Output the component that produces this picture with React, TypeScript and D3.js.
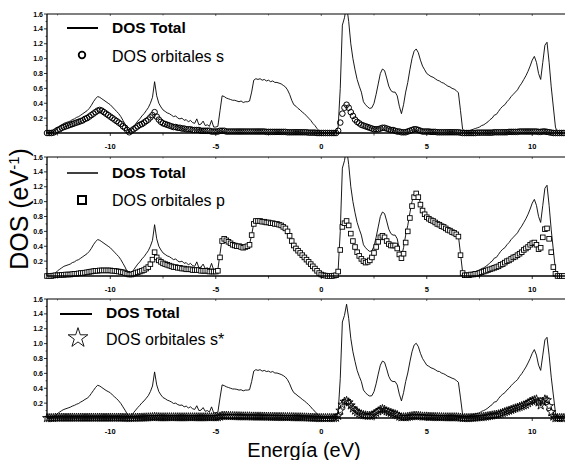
import React, { useEffect, useRef } from "react";
import * as d3 from "d3";

// energy grid of the DOS file: -13.0 eV … 11.5 eV every 0.1 eV
const E_START = -13;
const E_STEP = 0.1;

// total DOS (panels 1 and 2), one row per eV
const dosTotal = [
  0, 0, 0, 0.01, 0.04, 0.07, 0.09, 0.11, 0.13, 0.14,
  0.15, 0.16, 0.18, 0.19, 0.21, 0.22, 0.24, 0.26, 0.28, 0.3,
  0.33, 0.37, 0.42, 0.46, 0.49, 0.48, 0.46, 0.44, 0.42, 0.4,
  0.38, 0.35, 0.32, 0.29, 0.26, 0.22, 0.17, 0.12, 0.06, 0.01,
  0.04, 0.08, 0.12, 0.16, 0.19, 0.23, 0.26, 0.3, 0.34, 0.4,
  0.48, 0.69, 0.5, 0.4, 0.35, 0.31, 0.29, 0.27, 0.26, 0.24,
  0.22, 0.23, 0.2, 0.19, 0.2, 0.17, 0.18, 0.15, 0.17, 0.14,
  0.13, 0.19, 0.11, 0.12, 0.16, 0.1, 0.11, 0.09, 0.17, 0.08,
  0.08, 0.09, 0.3, 0.5, 0.49, 0.47, 0.46, 0.45, 0.44, 0.44,
  0.43, 0.42, 0.43, 0.41, 0.42, 0.42, 0.43, 0.55, 0.71, 0.73,
  0.72, 0.73, 0.71, 0.72, 0.7, 0.71, 0.69, 0.7, 0.68, 0.68,
  0.67, 0.66, 0.64, 0.62, 0.58, 0.52, 0.44, 0.38, 0.36, 0.33,
  0.31, 0.28, 0.26, 0.23, 0.2, 0.17, 0.13, 0.1, 0.06, 0.03,
  0, 0, 0, 0, 0, 0, 0, 0.01, 0.08, 0.6,
  1.45, 1.55, 1.72, 1.5, 1.2, 1.0, 0.85, 0.72, 0.63, 0.55,
  0.42, 0.38, 0.35, 0.33, 0.34, 0.4, 0.52, 0.66, 0.8, 0.86,
  0.84, 0.74, 0.63, 0.57, 0.55, 0.55, 0.5, 0.36, 0.26, 0.38,
  0.55, 0.68, 0.85, 1.0, 1.1, 1.13, 1.08, 0.98, 0.9, 0.85,
  0.8, 0.78, 0.76, 0.75, 0.73, 0.71, 0.7, 0.68, 0.67, 0.65,
  0.63, 0.62, 0.6, 0.59, 0.57, 0.54, 0.3, 0.05, 0.03, 0.03,
  0.03, 0.04, 0.05, 0.06, 0.07, 0.08, 0.1, 0.11, 0.13, 0.15,
  0.18, 0.2, 0.24, 0.25, 0.29, 0.33, 0.36, 0.38, 0.42, 0.45,
  0.49, 0.52, 0.55, 0.58, 0.63, 0.67, 0.72, 0.77, 0.83, 0.9,
  0.98, 1.03, 0.95, 0.8, 0.72, 0.95, 1.18, 1.22, 0.95, 0.62,
  0.35, 0.08, 0, 0, 0, 0,
];

// total DOS as plotted in the bottom panel
const dosTotalBottom = [
  0, 0, 0, 0.01, 0.035, 0.06, 0.08, 0.1, 0.115, 0.125,
  0.135, 0.145, 0.16, 0.17, 0.185, 0.195, 0.215, 0.23, 0.25, 0.265,
  0.29, 0.33, 0.37, 0.41, 0.44, 0.43, 0.41, 0.39, 0.37, 0.355,
  0.34, 0.31, 0.285, 0.26, 0.23, 0.195, 0.15, 0.105, 0.055, 0.01,
  0.035, 0.07, 0.105, 0.14, 0.17, 0.205, 0.23, 0.265, 0.3, 0.355,
  0.43, 0.62, 0.445, 0.355, 0.31, 0.275, 0.26, 0.24, 0.23, 0.215,
  0.195, 0.2, 0.18, 0.17, 0.175, 0.15, 0.16, 0.135, 0.15, 0.125,
  0.115, 0.165, 0.1, 0.105, 0.14, 0.09, 0.1, 0.08, 0.15, 0.07,
  0.07, 0.08, 0.27, 0.445, 0.435, 0.42, 0.41, 0.4, 0.39, 0.39,
  0.385, 0.375, 0.38, 0.365, 0.375, 0.375, 0.38, 0.49, 0.63, 0.65,
  0.64, 0.65, 0.63, 0.64, 0.625, 0.63, 0.615, 0.625, 0.605, 0.605,
  0.595, 0.585, 0.57, 0.55, 0.515, 0.46, 0.39, 0.34, 0.32, 0.295,
  0.275, 0.25, 0.23, 0.205, 0.18, 0.15, 0.115, 0.09, 0.055, 0.025,
  0, 0, 0, 0, 0, 0, 0, 0.01, 0.07, 0.53,
  1.29, 1.38, 1.53, 1.34, 1.07, 0.89, 0.76, 0.64, 0.56, 0.49,
  0.375, 0.34, 0.31, 0.295, 0.3, 0.355, 0.46, 0.59, 0.71, 0.765,
  0.75, 0.66, 0.56, 0.505, 0.49, 0.49, 0.445, 0.32, 0.23, 0.34,
  0.49, 0.605, 0.755, 0.89, 0.98, 1.005, 0.96, 0.87, 0.8, 0.755,
  0.71, 0.695, 0.675, 0.665, 0.65, 0.63, 0.625, 0.605, 0.595, 0.58,
  0.56, 0.55, 0.535, 0.525, 0.505, 0.48, 0.27, 0.045, 0.025, 0.025,
  0.025, 0.035, 0.045, 0.055, 0.06, 0.07, 0.09, 0.1, 0.115, 0.135,
  0.16, 0.18, 0.215, 0.22, 0.26, 0.295, 0.32, 0.34, 0.375, 0.4,
  0.435, 0.465, 0.49, 0.515, 0.56, 0.595, 0.64, 0.685, 0.74, 0.8,
  0.87, 0.92, 0.845, 0.71, 0.64, 0.845, 1.05, 1.085, 0.845, 0.55,
  0.31, 0.07, 0, 0, 0, 0,
];

// s orbitals
const dosS = [
  0, 0, 0, 0.005, 0.02, 0.04, 0.05, 0.07, 0.08, 0.09,
  0.1, 0.11, 0.12, 0.13, 0.14, 0.15, 0.16, 0.17, 0.19, 0.2,
  0.22, 0.24, 0.26, 0.28, 0.3, 0.31, 0.3, 0.28, 0.26, 0.24,
  0.22, 0.2, 0.18, 0.16, 0.14, 0.12, 0.09, 0.07, 0.04, 0.01,
  0.03, 0.05, 0.07, 0.09, 0.11, 0.12, 0.14, 0.16, 0.18, 0.21,
  0.24, 0.28, 0.22, 0.18, 0.15, 0.13, 0.12, 0.11, 0.1, 0.09,
  0.08, 0.08, 0.07, 0.07, 0.06, 0.06, 0.05, 0.05, 0.05, 0.04,
  0.04, 0.04, 0.04, 0.03, 0.03, 0.03, 0.03, 0.03, 0.02, 0.02,
  0.02, 0.02, 0.03, 0.03, 0.03, 0.02, 0.02, 0.02, 0.02, 0.02,
  0.02, 0.02, 0.02, 0.02, 0.02, 0.02, 0.02, 0.02, 0.02, 0.02,
  0.02, 0.02, 0.02, 0.02, 0.015, 0.015, 0.015, 0.015, 0.015, 0.015,
  0.015, 0.015, 0.015, 0.015, 0.01, 0.01, 0.01, 0.01, 0.01, 0.01,
  0.01, 0.01, 0.01, 0.01, 0.005, 0.005, 0.005, 0.005, 0, 0,
  0, 0, 0, 0, 0, 0, 0, 0, 0.03, 0.14,
  0.26, 0.34, 0.38, 0.34, 0.28, 0.23, 0.18, 0.15, 0.13, 0.11,
  0.1, 0.09, 0.08, 0.07, 0.06, 0.05, 0.05, 0.05, 0.06, 0.07,
  0.07, 0.06, 0.05, 0.04, 0.04, 0.03, 0.02, 0.02, 0.01, 0.01,
  0.01, 0.02, 0.03, 0.04, 0.05, 0.05, 0.04, 0.03, 0.02, 0.02,
  0.02, 0.02, 0.015, 0.015, 0.015, 0.01, 0.01, 0.01, 0.01, 0.01,
  0.01, 0.01, 0.01, 0.01, 0.01, 0.01, 0.005, 0, 0, 0,
  0, 0, 0, 0, 0.005, 0.005, 0.005, 0.005, 0.005, 0.005,
  0.005, 0.005, 0.01, 0.01, 0.01, 0.01, 0.01, 0.01, 0.01, 0.015,
  0.015, 0.015, 0.015, 0.015, 0.02, 0.02, 0.02, 0.02, 0.02, 0.02,
  0.02, 0.02, 0.02, 0.015, 0.015, 0.02, 0.02, 0.015, 0.01, 0.005,
  0, 0, 0, 0, 0, 0,
];

// p orbitals
const dosP = [
  0, 0, 0, 0.005, 0.01, 0.01, 0.01, 0.015, 0.015, 0.02,
  0.02, 0.02, 0.025, 0.03, 0.03, 0.035, 0.04, 0.04, 0.045, 0.05,
  0.055, 0.06, 0.065, 0.07, 0.07, 0.075, 0.075, 0.075, 0.075, 0.075,
  0.075, 0.07, 0.07, 0.065, 0.06, 0.055, 0.05, 0.04, 0.03, 0.02,
  0.02, 0.03, 0.04, 0.05, 0.06, 0.07, 0.08, 0.1, 0.12, 0.16,
  0.22, 0.32, 0.25, 0.21, 0.19, 0.17, 0.16, 0.15, 0.14, 0.13,
  0.12, 0.12, 0.11, 0.11, 0.1, 0.1, 0.09, 0.09, 0.09, 0.08,
  0.08, 0.08, 0.08, 0.07, 0.07, 0.07, 0.07, 0.06, 0.06, 0.06,
  0.06, 0.07, 0.25, 0.47, 0.5, 0.48, 0.46, 0.44, 0.42, 0.41,
  0.4, 0.4, 0.39, 0.38, 0.39, 0.4, 0.42, 0.55, 0.7, 0.74,
  0.74, 0.74, 0.73, 0.73, 0.72, 0.72, 0.71, 0.71, 0.7, 0.7,
  0.69, 0.68, 0.66, 0.64, 0.6, 0.54, 0.47, 0.41, 0.37, 0.34,
  0.31, 0.28, 0.25, 0.22, 0.19, 0.16, 0.13, 0.1, 0.07, 0.04,
  0.02, 0.01, 0.005, 0, 0, 0, 0.005, 0.01, 0.06, 0.35,
  0.66, 0.71, 0.74, 0.68, 0.57, 0.47, 0.39, 0.32, 0.27, 0.23,
  0.2, 0.18, 0.19, 0.21, 0.25, 0.31, 0.39, 0.46, 0.52, 0.54,
  0.52, 0.47, 0.43, 0.41, 0.41, 0.41, 0.37, 0.29, 0.24, 0.3,
  0.45, 0.6, 0.78, 0.94, 1.06, 1.11, 1.06, 0.96, 0.88, 0.83,
  0.79, 0.77, 0.75, 0.74, 0.72, 0.7, 0.69, 0.67, 0.66, 0.64,
  0.62, 0.61, 0.59, 0.58, 0.56, 0.53, 0.28, 0.04, 0.01, 0.01,
  0.01, 0.02, 0.02, 0.03, 0.03, 0.04, 0.05, 0.06, 0.07, 0.08,
  0.09, 0.1, 0.11, 0.12, 0.13, 0.15, 0.16, 0.18, 0.2, 0.21,
  0.23, 0.25, 0.26, 0.28, 0.3, 0.32, 0.35, 0.37, 0.39, 0.42,
  0.44, 0.45, 0.42, 0.36, 0.38, 0.52, 0.63, 0.64, 0.5, 0.32,
  0.12, 0.03, 0, 0, 0, 0,
];

// s* orbitals
const dosSStar = [
  0, 0, 0, 0, 0.005, 0.005, 0.005, 0.005, 0.005, 0.005,
  0.005, 0.005, 0.005, 0.005, 0.005, 0.005, 0.005, 0.005, 0.005, 0.005,
  0.005, 0.005, 0.005, 0.005, 0.005, 0.005, 0.005, 0.005, 0.005, 0.005,
  0.005, 0.005, 0.005, 0.005, 0.005, 0.005, 0.005, 0.003, 0.002, 0.001,
  0.002, 0.003, 0.004, 0.005, 0.005, 0.006, 0.007, 0.008, 0.009, 0.01,
  0.012, 0.015, 0.012, 0.011, 0.01, 0.01, 0.01, 0.01, 0.01, 0.01,
  0.01, 0.01, 0.01, 0.01, 0.01, 0.01, 0.01, 0.01, 0.01, 0.01,
  0.01, 0.01, 0.01, 0.01, 0.01, 0.01, 0.01, 0.01, 0.01, 0.01,
  0.01, 0.012, 0.02, 0.03, 0.03, 0.03, 0.028, 0.027, 0.026, 0.025,
  0.025, 0.024, 0.023, 0.022, 0.022, 0.022, 0.022, 0.02, 0.02, 0.02,
  0.02, 0.02, 0.019, 0.019, 0.018, 0.018, 0.017, 0.016, 0.016, 0.015,
  0.015, 0.014, 0.014, 0.013, 0.013, 0.012, 0.012, 0.011, 0.011, 0.01,
  0.01, 0.009, 0.008, 0.007, 0.006, 0.005, 0.004, 0.003, 0.002, 0,
  0, 0, 0, 0, 0, 0, 0, 0.005, 0.03, 0.1,
  0.18, 0.22, 0.23, 0.21, 0.17, 0.13, 0.1, 0.08, 0.06, 0.05,
  0.04, 0.035, 0.03, 0.03, 0.035, 0.05, 0.07, 0.09, 0.11, 0.12,
  0.11, 0.09, 0.08, 0.07, 0.06, 0.05, 0.04, 0.02, 0.01, 0.01,
  0.01, 0.015, 0.02, 0.025, 0.03, 0.03, 0.028, 0.025, 0.02, 0.02,
  0.02, 0.018, 0.016, 0.015, 0.014, 0.013, 0.012, 0.011, 0.01, 0.01,
  0.01, 0.01, 0.01, 0.01, 0.01, 0.008, 0.005, 0, 0, 0,
  0, 0.002, 0.004, 0.006, 0.008, 0.01, 0.013, 0.016, 0.02, 0.025,
  0.03, 0.035, 0.04, 0.045, 0.05, 0.06, 0.07, 0.08, 0.09, 0.1,
  0.11, 0.12, 0.13, 0.14, 0.15, 0.16, 0.17, 0.18, 0.2, 0.22,
  0.23, 0.24, 0.25, 0.21, 0.17, 0.22, 0.25, 0.24, 0.16, 0.08,
  0.02, 0, 0, 0, 0, 0,
];

const xMajorTicks = [-10, -5, 0, 5, 10];
const xMinorTicks = [-12.5, -7.5, -2.5, 2.5, 7.5];
const yTicks = [0.2, 0.4, 0.6, 0.8, 1.0, 1.2, 1.4, 1.6];
const yMinorTicks = [0.1, 0.3, 0.5, 0.7, 0.9, 1.1, 1.3, 1.5];
const totalLabel = "DOS Total";
const projLabels = ["DOS orbitales s", "DOS orbitales p", "DOS orbitales s*"];

const FONT = "'Liberation Sans', Arial, sans-serif";

const App = () => {
  const ref = useRef<SVGSVGElement>(null);

  useEffect(() => {
    if (!ref.current) return;
    const svg = d3.select(ref.current);
    svg.selectAll("*").remove();

    const x = d3.scaleLinear().domain([-13, 11.6]).range([47, 566]);
    const energies = dosTotal.map((_, i) => E_START + i * E_STEP);

    const panels = [
      { top: 14, total: dosTotal, proj: dosS, marker: "circle", legend: { lx0: 67, lx1: 98, ly: 28, tx: 112, t1: 33, my: 55, t2: 62, mx: 82, lw: 2 } },
      { top: 157, total: dosTotal, proj: dosP, marker: "square", legend: { lx0: 67, lx1: 98, ly: 173, tx: 112, t1: 178, my: 200, t2: 206, mx: 82, lw: 1.5 } },
      { top: 299, total: dosTotalBottom, proj: dosSStar, marker: "star", legend: { lx0: 60, lx1: 92, ly: 314, tx: 106, t1: 318, my: 337, t2: 345, mx: 78, lw: 2 } },
    ];
    const panelH = 119;

    panels.forEach((p, k) => {
      const bottom = p.top + panelH;
      const y = d3.scaleLinear().domain([0, 1.6]).range([bottom, p.top]);
      const g = svg.append("g");

      const clipId = `clip-${k}`;
      g.append("clipPath")
        .attr("id", clipId)
        .append("rect")
        .attr("x", 40)
        .attr("y", p.top)
        .attr("width", 530)
        .attr("height", panelH + 8);

      const plot = g.append("g").attr("clip-path", `url(#${clipId})`);

      // total DOS line
      const line = d3
        .line<number>()
        .x((_, i) => x(energies[i]))
        .y((d) => y(d));
      plot
        .append("path")
        .datum(p.total)
        .attr("fill", "none")
        .attr("stroke", "#000")
        .attr("stroke-width", 0.9)
        .attr("d", line);

      // projected DOS markers
      const pts = plot.append("g");
      p.proj.forEach((v, i) => {
        const cx = x(energies[i]);
        const cy = y(v);
        if (p.marker === "circle") {
          pts.append("circle").attr("cx", cx).attr("cy", cy).attr("r", 2.8)
            .attr("fill", "none").attr("stroke", "#000").attr("stroke-width", 1);
        } else if (p.marker === "square") {
          pts.append("rect").attr("x", cx - 2.3).attr("y", cy - 2.3).attr("width", 4.6).attr("height", 4.6)
            .attr("fill", "#fff").attr("stroke", "#000").attr("stroke-width", 0.9);
        } else {
          pts.append("path").attr("transform", `translate(${cx},${cy})`)
            .attr("d", d3.symbol(d3.symbolStar, 24)())
            .attr("fill", "none").attr("stroke", "#000").attr("stroke-width", 0.9);
        }
      });

      // frame
      g.append("line").attr("x1", 47).attr("x2", 565).attr("y1", p.top).attr("y2", p.top)
        .attr("stroke", "#000").attr("stroke-width", 1.2);
      g.append("line").attr("x1", 47).attr("x2", 565).attr("y1", bottom).attr("y2", bottom)
        .attr("stroke", "#000").attr("stroke-width", 1.3);
      g.append("line").attr("x1", 47).attr("x2", 47).attr("y1", p.top).attr("y2", bottom)
        .attr("stroke", "#000").attr("stroke-width", 1.3);

      // y ticks
      yTicks.forEach((t) => {
        g.append("line").attr("x1", 44).attr("x2", 47).attr("y1", y(t)).attr("y2", y(t))
          .attr("stroke", "#000").attr("stroke-width", 0.8);
        g.append("text").attr("x", 43).attr("y", y(t) + 2.5).attr("text-anchor", "end")
          .style("font-family", FONT).style("font-size", "7px").style("font-weight", "bold")
          .text(t.toFixed(1));
      });
      yMinorTicks.forEach((t) => {
        g.append("line").attr("x1", 45.5).attr("x2", 47).attr("y1", y(t)).attr("y2", y(t))
          .attr("stroke", "#000").attr("stroke-width", 0.7);
      });

      // x ticks
      xMajorTicks.forEach((t) => {
        g.append("line").attr("x1", x(t)).attr("x2", x(t)).attr("y1", bottom).attr("y2", bottom + 3)
          .attr("stroke", "#000").attr("stroke-width", 0.8);
        g.append("line").attr("x1", x(t)).attr("x2", x(t)).attr("y1", p.top).attr("y2", p.top + 2)
          .attr("stroke", "#000").attr("stroke-width", 0.6);
        g.append("text").attr("x", x(t)).attr("y", bottom + 16).attr("text-anchor", "middle")
          .style("font-family", FONT).style("font-size", "7.5px").style("font-weight", "bold")
          .text(t);
      });
      xMinorTicks.forEach((t) => {
        g.append("line").attr("x1", x(t)).attr("x2", x(t)).attr("y1", bottom).attr("y2", bottom + 2.5)
          .attr("stroke", "#000").attr("stroke-width", 0.7);
        g.append("line").attr("x1", x(t)).attr("x2", x(t)).attr("y1", p.top).attr("y2", p.top + 1.5)
          .attr("stroke", "#000").attr("stroke-width", 0.5);
      });

      // legend
      const L = p.legend;
      g.append("line").attr("x1", L.lx0).attr("x2", L.lx1).attr("y1", L.ly).attr("y2", L.ly)
        .attr("stroke", "#000").attr("stroke-width", L.lw);
      g.append("text").attr("x", L.tx).attr("y", L.t1)
        .style("font-family", FONT).style("font-size", "15.5px").style("font-weight", "bold")
        .text(totalLabel);
      if (p.marker === "circle") {
        g.append("circle").attr("cx", L.mx).attr("cy", L.my).attr("r", 3.3)
          .attr("fill", "#fff").attr("stroke", "#000").attr("stroke-width", 1.8);
      } else if (p.marker === "square") {
        g.append("rect").attr("x", L.mx - 4).attr("y", L.my - 4).attr("width", 8).attr("height", 8)
          .attr("fill", "#fff").attr("stroke", "#000").attr("stroke-width", 2);
      } else {
        g.append("path").attr("transform", `translate(${L.mx},${L.my + 1})`)
          .attr("d", d3.symbol(d3.symbolStar, 120)())
          .attr("fill", "#fff").attr("stroke", "#000").attr("stroke-width", 0.9);
      }
      g.append("text").attr("x", L.tx).attr("y", L.t2)
        .style("font-family", FONT).style("font-size", "16px")
        .text(projLabels[k]);
    });

    // axis titles
    svg.append("text").attr("x", 304).attr("y", 457).attr("text-anchor", "middle")
      .style("font-family", FONT).style("font-size", "20px")
      .text("Energía (eV)");

    const yl = svg.append("text")
      .attr("transform", "translate(28,209) rotate(-90)")
      .attr("text-anchor", "middle")
      .style("font-family", FONT).style("font-size", "25px");
    yl.append("tspan").text("DOS (eV");
    yl.append("tspan").attr("dy", -9).style("font-size", "15px").text("-1");
    yl.append("tspan").attr("dy", 9).text(")");
  }, []);

  return (
    <svg
      ref={ref}
      width={565}
      height={460}
      style={{ position: "absolute", left: 0, top: 0, background: "#fff" }}
    />
  );
};

export default App;
